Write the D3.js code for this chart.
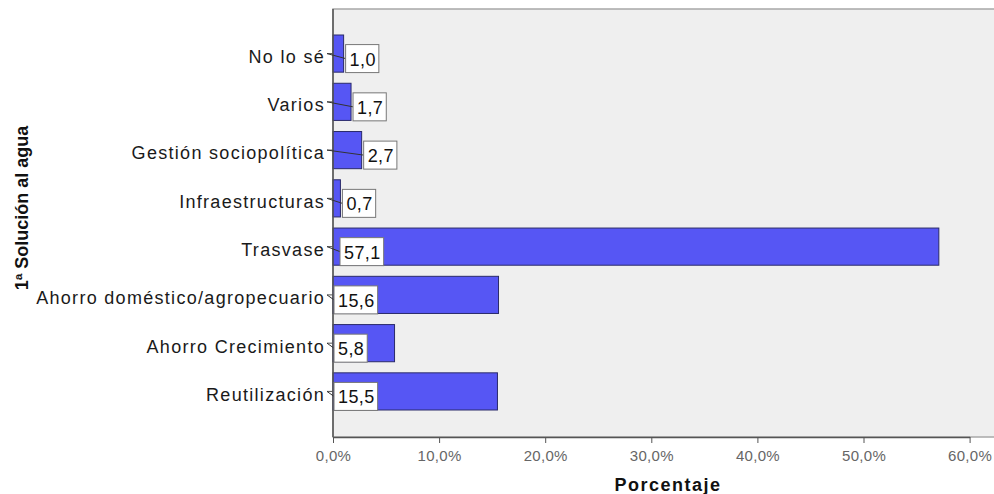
<!DOCTYPE html>
<html><head><meta charset="utf-8">
<script src="https://cdn.jsdelivr.net/npm/d3@7"></script>
<style>body{margin:0;background:#fff}svg{display:block;font-family:"Liberation Sans",Arial,sans-serif}</style>
</head><body><svg id="c" width="994" height="494"></svg>
<script>
const categories = ["No lo sé","Varios","Gestión sociopolítica","Infraestructuras","Trasvase","Ahorro doméstico/agropecuario","Ahorro Crecimiento","Reutilización"];
const values = [1.0,1.7,2.7,0.7,57.1,15.6,5.8,15.5];
const xTicks = [0,10,20,30,40,50,60];
const xTitle = "Porcentaje";
const yTitle = "1ª Solución al agua";

const svg = d3.select("#c");
const L = 333, R = 994, T = 9, B = 437;
const x = d3.scaleLinear().domain([0,60]).range([L, 969.6]);
const y = d3.scaleBand().domain(categories).range([35, 410]).paddingInner(0.23).paddingOuter(0);
const fmt = v => d3.format(".1f")(v).replace(".", ",");

svg.append("rect").attr("x",L).attr("y",T).attr("width",R-L+2).attr("height",B-T)
  .attr("fill","#efefef").attr("stroke","#a8a8a8").attr("stroke-width",1.5);

// bars
svg.append("g").selectAll("rect").data(values).join("rect")
  .attr("x", x(0)).attr("y",(d,i)=>y(categories[i]))
  .attr("width", d=>x(d)-x(0)).attr("height", y.bandwidth())
  .attr("fill","#5656f4").attr("stroke","#2a2a6a").attr("stroke-width",1);

// axes
const xa = svg.append("g").attr("transform",`translate(0,${B})`)
  .call(d3.axisBottom(x).tickValues(xTicks).tickSize(6).tickSizeOuter(0).tickFormat(d=>fmt(d)+"%"));
xa.select(".domain").attr("stroke","#555").attr("stroke-width",1.5);
xa.selectAll(".tick line").attr("stroke","#555");
xa.selectAll("text").attr("fill","#666").attr("font-size",15).attr("letter-spacing","0.3px").attr("dy","1.0em");

const ya = svg.append("g").attr("transform",`translate(${L},0)`)
  .call(d3.axisLeft(y).tickSize(6).tickSizeOuter(0));
ya.select(".domain").attr("stroke","#555").attr("stroke-width",1.5).attr("d",`M0,${T}V${B}`);
ya.selectAll(".tick line").attr("stroke","#555");
ya.selectAll("text").attr("fill","#1a1a1a").attr("font-size",18).attr("letter-spacing","1.3px").attr("x",-8).attr("dy","0.52em");

// value labels
const lg = svg.append("g");
values.forEach((v,i)=>{
  const cy = y(categories[i]) + y.bandwidth()/2 + 5;
  const s = fmt(v);
  const bx = v < 3 ? x(v)+2 : x(0) + (v > 50 ? 7 : 1);
  lg.append("line").attr("x1",L-6).attr("y1",cy-5).attr("x2",bx).attr("y2",cy)
    .attr("stroke","#333").attr("stroke-width",1);
  const rect = lg.append("rect").attr("x",bx).attr("y",cy-14).attr("height",28)
    .attr("fill","#fff").attr("stroke","#777").attr("stroke-width",1);
  const t = lg.append("text").attr("x",bx+4).attr("y",cy+7).attr("font-size",18).attr("letter-spacing","0.4px").attr("fill","#111").text(s);
  rect.attr("width", t.node().getComputedTextLength()+7);
});

svg.append("text").attr("x",668).attr("y",491).attr("text-anchor","middle")
  .attr("font-size",18).attr("letter-spacing","1.5px").attr("font-weight","bold").attr("fill","#111").text(xTitle);
svg.append("text").attr("transform","translate(28,208) rotate(-90)").attr("text-anchor","middle")
  .attr("font-size",18).attr("font-weight","bold").attr("fill","#111").text(yTitle);
</script></body></html>
